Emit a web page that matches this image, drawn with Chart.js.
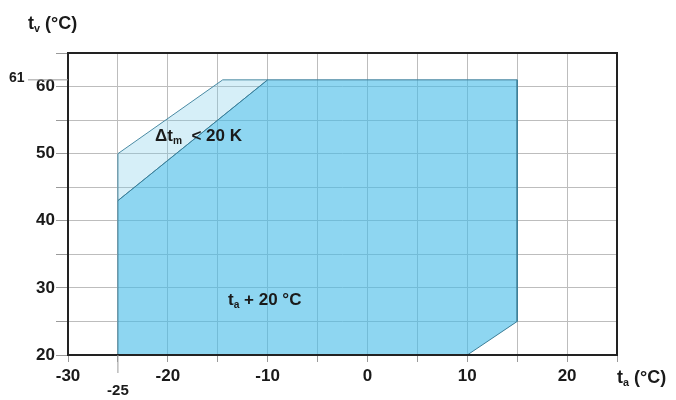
<!DOCTYPE html>
<html>
<head>
<meta charset="utf-8">
<script src="https://cdn.jsdelivr.net/npm/chart.js@4"></script>
<style>
  body { margin: 0; background: #fff; }
  #wrap { width: 676px; height: 400px; }
</style>
</head>
<body>
<div id="wrap"><canvas id="chart"></canvas></div>
<script>
// operating range, outside temp (x) vs flow temp (y)
const rangeX = [-25, -25, -10, 15, 15, 10, -25];
const rangeY = [20, 43, 61, 61, 25, 20, 20];
// small strip where the spread must stay below 20 K
const stripX = [-25, -25, -14.5, -10, -25];
const stripY = [43, 50, 61, 61, 43];
const xTickLabels = [-30, -20, -10, 0, 10, 20];
const yTickLabels = [20, 30, 40, 50, 60];
const extraX = -25;
const extraY = 61;

const pts = (xs, ys) => xs.map((x, i) => ({ x: x, y: ys[i] }));
const FONT = 'Liberation Sans';

// draws "t" + subscript + rest
function subText(ctx, x, y, parts, size) {
  let cx = x;
  parts.forEach(p => {
    const s = p.sub ? size * 0.6 : size;
    ctx.font = 'bold ' + s + 'px "' + FONT + '"';
    ctx.fillText(p.t, cx, p.sub ? y + size * 0.3 : y);
    cx += ctx.measureText(p.t).width;
  });
}

const textPlugin = {
  id: 'texts',
  afterDraw(chart) {
    const ctx = chart.ctx;
    const a = chart.chartArea;
    const xs = chart.scales.x, ys = chart.scales.y;
    ctx.save();
    // frame
    ctx.strokeStyle = '#222';
    ctx.lineWidth = 2;
    ctx.strokeRect(a.left, a.top, a.right - a.left, a.bottom - a.top);

    // extra tick at 61
    const y61 = ys.getPixelForValue(extraY);
    ctx.strokeStyle = '#9a9a9a';
    ctx.lineWidth = 1;
    ctx.beginPath(); ctx.moveTo(28, y61); ctx.lineTo(a.left, y61); ctx.stroke();
    // extra tick at -25
    const x25 = xs.getPixelForValue(extraX);
    ctx.beginPath(); ctx.moveTo(x25, a.bottom); ctx.lineTo(x25, a.bottom + 18); ctx.stroke();

    ctx.fillStyle = '#1a1a1a';
    ctx.textBaseline = 'middle';
    ctx.textAlign = 'left';
    ctx.font = 'bold 14px "' + FONT + '"';
    ctx.fillText(String(extraY), 9, y61 - 2);
    ctx.textAlign = 'center';
    ctx.font = 'bold 15px "' + FONT + '"';
    ctx.fillText(String(extraX), x25, 391);

    ctx.textAlign = 'left';
    subText(ctx, 28, 24, [{ t: 't' }, { t: 'v', sub: true }, { t: ' (°C)' }], 18);
    subText(ctx, 617, 378, [{ t: 't' }, { t: 'a', sub: true }, { t: ' (°C)' }], 18);
    subText(ctx, 155, 136, [{ t: 'Δt' }, { t: 'm', sub: true }, { t: '  < 20 K' }], 17);
    subText(ctx, 228, 300, [{ t: 't' }, { t: 'a', sub: true }, { t: ' + 20 °C' }], 17);
    ctx.restore();
  }
};

new Chart(document.getElementById('chart'), {
  type: 'scatter',
  data: {
    datasets: [
      {
        label: 'range',
        data: pts(rangeX, rangeY),
        showLine: true,
        fill: 'shape',
        backgroundColor: 'rgba(67,187,232,0.6)',
        borderColor: '#3d7e97',
        borderWidth: 1,
        pointRadius: 0,
        tension: 0
      },
      {
        label: 'strip',
        data: pts(stripX, stripY),
        showLine: true,
        fill: 'shape',
        backgroundColor: 'rgba(118,202,232,0.3)',
        borderColor: '#4a8aa3',
        borderWidth: 1,
        pointRadius: 0,
        tension: 0
      }
    ]
  },
  options: {
    responsive: true,
    maintainAspectRatio: false,
    animation: false,
    layout: { padding: { left: 0, right: 59, top: 53, bottom: 0 } },
    plugins: {
      legend: { display: false },
      tooltip: { enabled: false }
    },
    scales: {
      x: {
        type: 'linear',
        min: -30,
        max: 25,
        afterFit: s => { s.height = 45; },
        border: { display: false },
        grid: { color: '#bdbdbd', lineWidth: 1, tickLength: 7, tickColor: '#9a9a9a' },
        ticks: {
          stepSize: 5,
          padding: 4,
          color: '#1a1a1a',
          font: { family: FONT, size: 17, weight: 'bold' },
          callback: v => xTickLabels.includes(v) ? String(v) : ''
        }
      },
      y: {
        type: 'linear',
        min: 20,
        max: 65,
        afterFit: s => { s.width = 68; },
        border: { display: false },
        grid: { color: '#bdbdbd', lineWidth: 1, tickLength: 12, tickColor: '#9a9a9a' },
        ticks: {
          stepSize: 5,
          padding: 1,
          color: '#1a1a1a',
          font: { family: FONT, size: 17, weight: 'bold' },
          callback: v => yTickLabels.includes(v) ? String(v) : ''
        }
      }
    }
  },
  plugins: [textPlugin]
});
</script>
</body>
</html>
